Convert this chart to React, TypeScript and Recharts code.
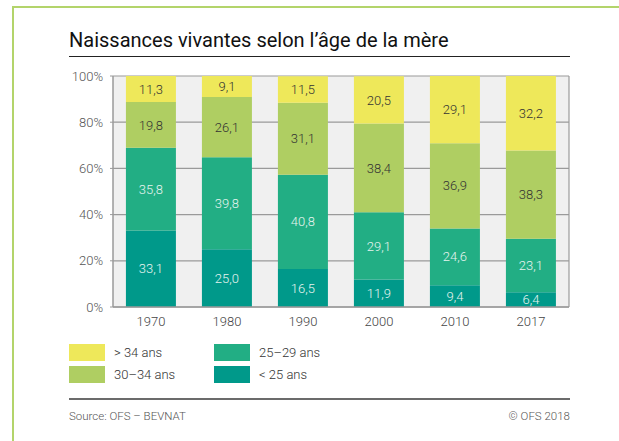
import { BarChart, Bar, XAxis, YAxis, CartesianGrid, LabelList } from 'recharts'

const years = ['1970', '1980', '1990', '2000', '2010', '2017']
const under25 = [33.1, 25.0, 16.5, 11.9, 9.4, 6.4]
const from25to29 = [35.8, 39.8, 40.8, 29.1, 24.6, 23.1]
const from30to34 = [19.8, 26.1, 31.1, 38.4, 36.9, 38.3]
const over34 = [11.3, 9.1, 11.5, 20.5, 29.1, 32.2]
const yTicks = [0, 20, 40, 60, 80, 100]

const series = [
  { key: 'u25', name: '< 25 ans', color: '#00998a', text: '#e6f4ef' },
  { key: 'a2529', name: '25–29 ans', color: '#22ae84', text: '#e6f4ef' },
  { key: 'a3034', name: '30–34 ans', color: '#afce62', text: '#333333' },
  { key: 'o34', name: '> 34 ans', color: '#eee85a', text: '#333333' },
]

const data = years.map((y, i) => ({
  year: y,
  u25: under25[i],
  a2529: from25to29[i],
  a3034: from30to34[i],
  o34: over34[i],
}))

const font = 'Roboto, sans-serif'
const fmt = (v: any) => Number(v).toFixed(1).replace('.', ',')

function LegendItem({ s, left, top }: { s: typeof series[0]; left: number; top: number }) {
  return (
    <div style={{ position: 'absolute', left, top, display: 'flex', alignItems: 'center', height: 17 }}>
      <div style={{ width: 36, height: 17, background: s.color }} />
      <span style={{ marginLeft: 9, fontSize: 13, fontWeight: 300, color: '#333', lineHeight: '17px' }}>
        {s.name}
      </span>
    </div>
  )
}

export default function App() {
  return (
    <div style={{ position: 'absolute', left: 0, top: 0, width: 619, height: 441, background: '#fff', fontFamily: font, overflow: 'hidden' }}>
      {/* green frame */}
      <div style={{ position: 'absolute', left: 12, top: 6, width: 607, height: 2, background: '#b3d46b' }} />
      <div style={{ position: 'absolute', left: 12, top: 6, width: 2, height: 435, background: '#b3d46b' }} />

      <div style={{ position: 'absolute', left: 69, top: 30, fontSize: 20, lineHeight: '20px', color: '#111', whiteSpace: 'nowrap' }}>
        Naissances vivantes selon l’âge de la mère
      </div>
      <div style={{ position: 'absolute', left: 69, top: 55.5, width: 501, height: 1.5, background: '#222' }} />

      <div style={{ position: 'absolute', left: 0, top: 0 }}>
        <BarChart
          width={619}
          height={441}
          data={data}
          margin={{ top: 76, right: 50, left: 0, bottom: 104 }}
          barCategoryGap="17%"
        >
          <CartesianGrid
            fill="#f0f0f0"
            stroke="#9a9a9a"
            strokeWidth={1.2}
            verticalCoordinatesGenerator={({ offset }: any) => [offset.left + offset.width]}
          />
          <XAxis
            dataKey="year"
            height={30}
            tickLine={false}
            axisLine={{ stroke: '#9a9a9a', strokeWidth: 1.5 }}
            tick={{ fontSize: 13, fontFamily: font, fontWeight: 300, fill: '#444' }}
            tickMargin={4}
          />
          <YAxis
            width={113}
            domain={[0, 100]}
            ticks={yTicks}
            tickFormatter={(v) => `${v}%`}
            axisLine={{ stroke: '#9a9a9a', strokeWidth: 1.5 }}
            tickLine={{ stroke: '#9a9a9a' }}
            tickSize={3}
            tickMargin={7}
            tick={{ fontSize: 13, fontFamily: font, fontWeight: 300, fill: '#555' }}
          />
          {series.map((s) => (
            <Bar key={s.key} dataKey={s.key} stackId="a" fill={s.color} isAnimationActive={false}>
              <LabelList
                dataKey={s.key}
                position="center"
                formatter={fmt}
                fill={s.text}
                style={{ fontSize: 13, fontFamily: font, fontWeight: 300 }}
              />
            </Bar>
          ))}
        </BarChart>
      </div>

      <LegendItem s={series[3]} left={69} top={344} />
      <LegendItem s={series[2]} left={69} top={366} />
      <LegendItem s={series[1]} left={214} top={344} />
      <LegendItem s={series[0]} left={214} top={366} />

      <div style={{ position: 'absolute', left: 69, top: 398, width: 501, height: 2, background: '#6b6b6b' }} />
      <div style={{ position: 'absolute', left: 69, top: 409, fontSize: 11.5, lineHeight: '14px', fontWeight: 300, color: '#555' }}>
        Source: OFS – BEVNAT
      </div>
      <div style={{ position: 'absolute', right: 619 - 570, top: 409, fontSize: 11.5, lineHeight: '14px', fontWeight: 300, color: '#555' }}>
        © OFS 2018
      </div>
    </div>
  )
}
